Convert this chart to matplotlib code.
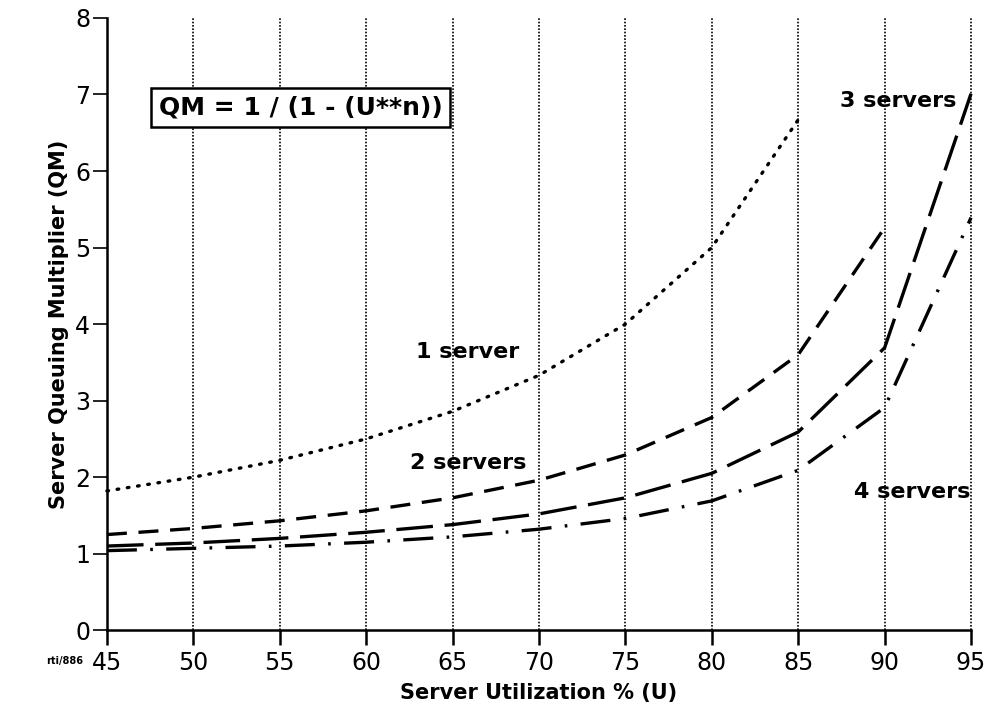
import matplotlib
matplotlib.use("Agg")
import matplotlib.pyplot as plt

# Data (utilization % vs queuing multiplier)
util = [45, 50, 55, 60, 65, 70, 75, 80, 85, 90, 95]
qm_1 = [1.82, 2.00, 2.22, 2.50, 2.86, 3.33, 4.00, 5.00, 6.67]
qm_2 = [1.25, 1.33, 1.43, 1.56, 1.73, 1.96, 2.29, 2.78, 3.60, 5.26]
qm_3 = [1.10, 1.14, 1.20, 1.28, 1.38, 1.52, 1.73, 2.05, 2.59, 3.69, 7.01]
qm_4 = [1.04, 1.07, 1.10, 1.15, 1.22, 1.32, 1.46, 1.69, 2.09, 2.91, 5.39]

xticks = [45, 50, 55, 60, 65, 70, 75, 80, 85, 90, 95]
yticks = [0, 1, 2, 3, 4, 5, 6, 7, 8]

fig = plt.figure(figsize=(9.99, 7.17), dpi=100)
ax = fig.add_axes([0.107, 0.121, 0.865, 0.854])

# vertical dotted grid
for x in xticks[1:]:
    ax.plot([x, x], [0, 8], color="black", lw=1.2, ls=(0, (1, 1)), zorder=1, clip_on=False)

lw = 2.4
ax.plot(util[:len(qm_1)], qm_1, color="black", lw=lw, ls=(0, (0.5, 2.6)), dash_capstyle="round", clip_on=False)
ax.plot(util[:len(qm_2)], qm_2, color="black", lw=lw, ls=(0, (6, 3.5)), clip_on=False)
ax.plot(util[:len(qm_3)], qm_3, color="black", lw=lw, ls=(0, (11, 3.5)), clip_on=False)
ax.plot(util[:len(qm_4)], qm_4, color="black", lw=lw, ls=(0, (9, 4, 0.8, 4)), clip_on=False)

ax.set_xlim(45, 95)
ax.set_ylim(0, 8)
ax.set_xticks(xticks)
ax.set_yticks(yticks)
for s in ["top", "right"]:
    ax.spines[s].set_visible(False)
ax.spines["left"].set_linewidth(1.8)
ax.spines["bottom"].set_linewidth(1.8)
ax.tick_params(axis="x", direction="out", length=11, width=1.8, labelsize=17, pad=4)
ax.tick_params(axis="y", direction="out", length=10, width=1.2, labelsize=17, pad=2)

ax.set_xlabel("Server Utilization % (U)", fontsize=15, fontweight="bold", labelpad=6)
ax.set_ylabel("Server Queuing Multiplier (QM)", fontsize=15, fontweight="bold", labelpad=4)

ax.text(48.0, 6.83, "QM = 1 / (1 - (U**n))", fontsize=18, fontweight="bold", va="center", ha="left",
        bbox=dict(boxstyle="square,pad=0.3", fc="white", ec="black", lw=1.8), zorder=5)
ax.text(65.9, 3.63, "1 server", fontsize=16, fontweight="bold", ha="center", va="center")
ax.text(65.9, 2.18, "2 servers", fontsize=16, fontweight="bold", ha="center", va="center")
ax.text(90.8, 6.91, "3 servers", fontsize=16, fontweight="bold", ha="center", va="center")
ax.text(91.6, 1.80, "4 servers", fontsize=16, fontweight="bold", ha="center", va="center")
fig.text(0.065, 0.078, "rti/886", fontsize=7, fontweight="bold", ha="center", va="center")

fig.savefig("out.png", dpi=100)
